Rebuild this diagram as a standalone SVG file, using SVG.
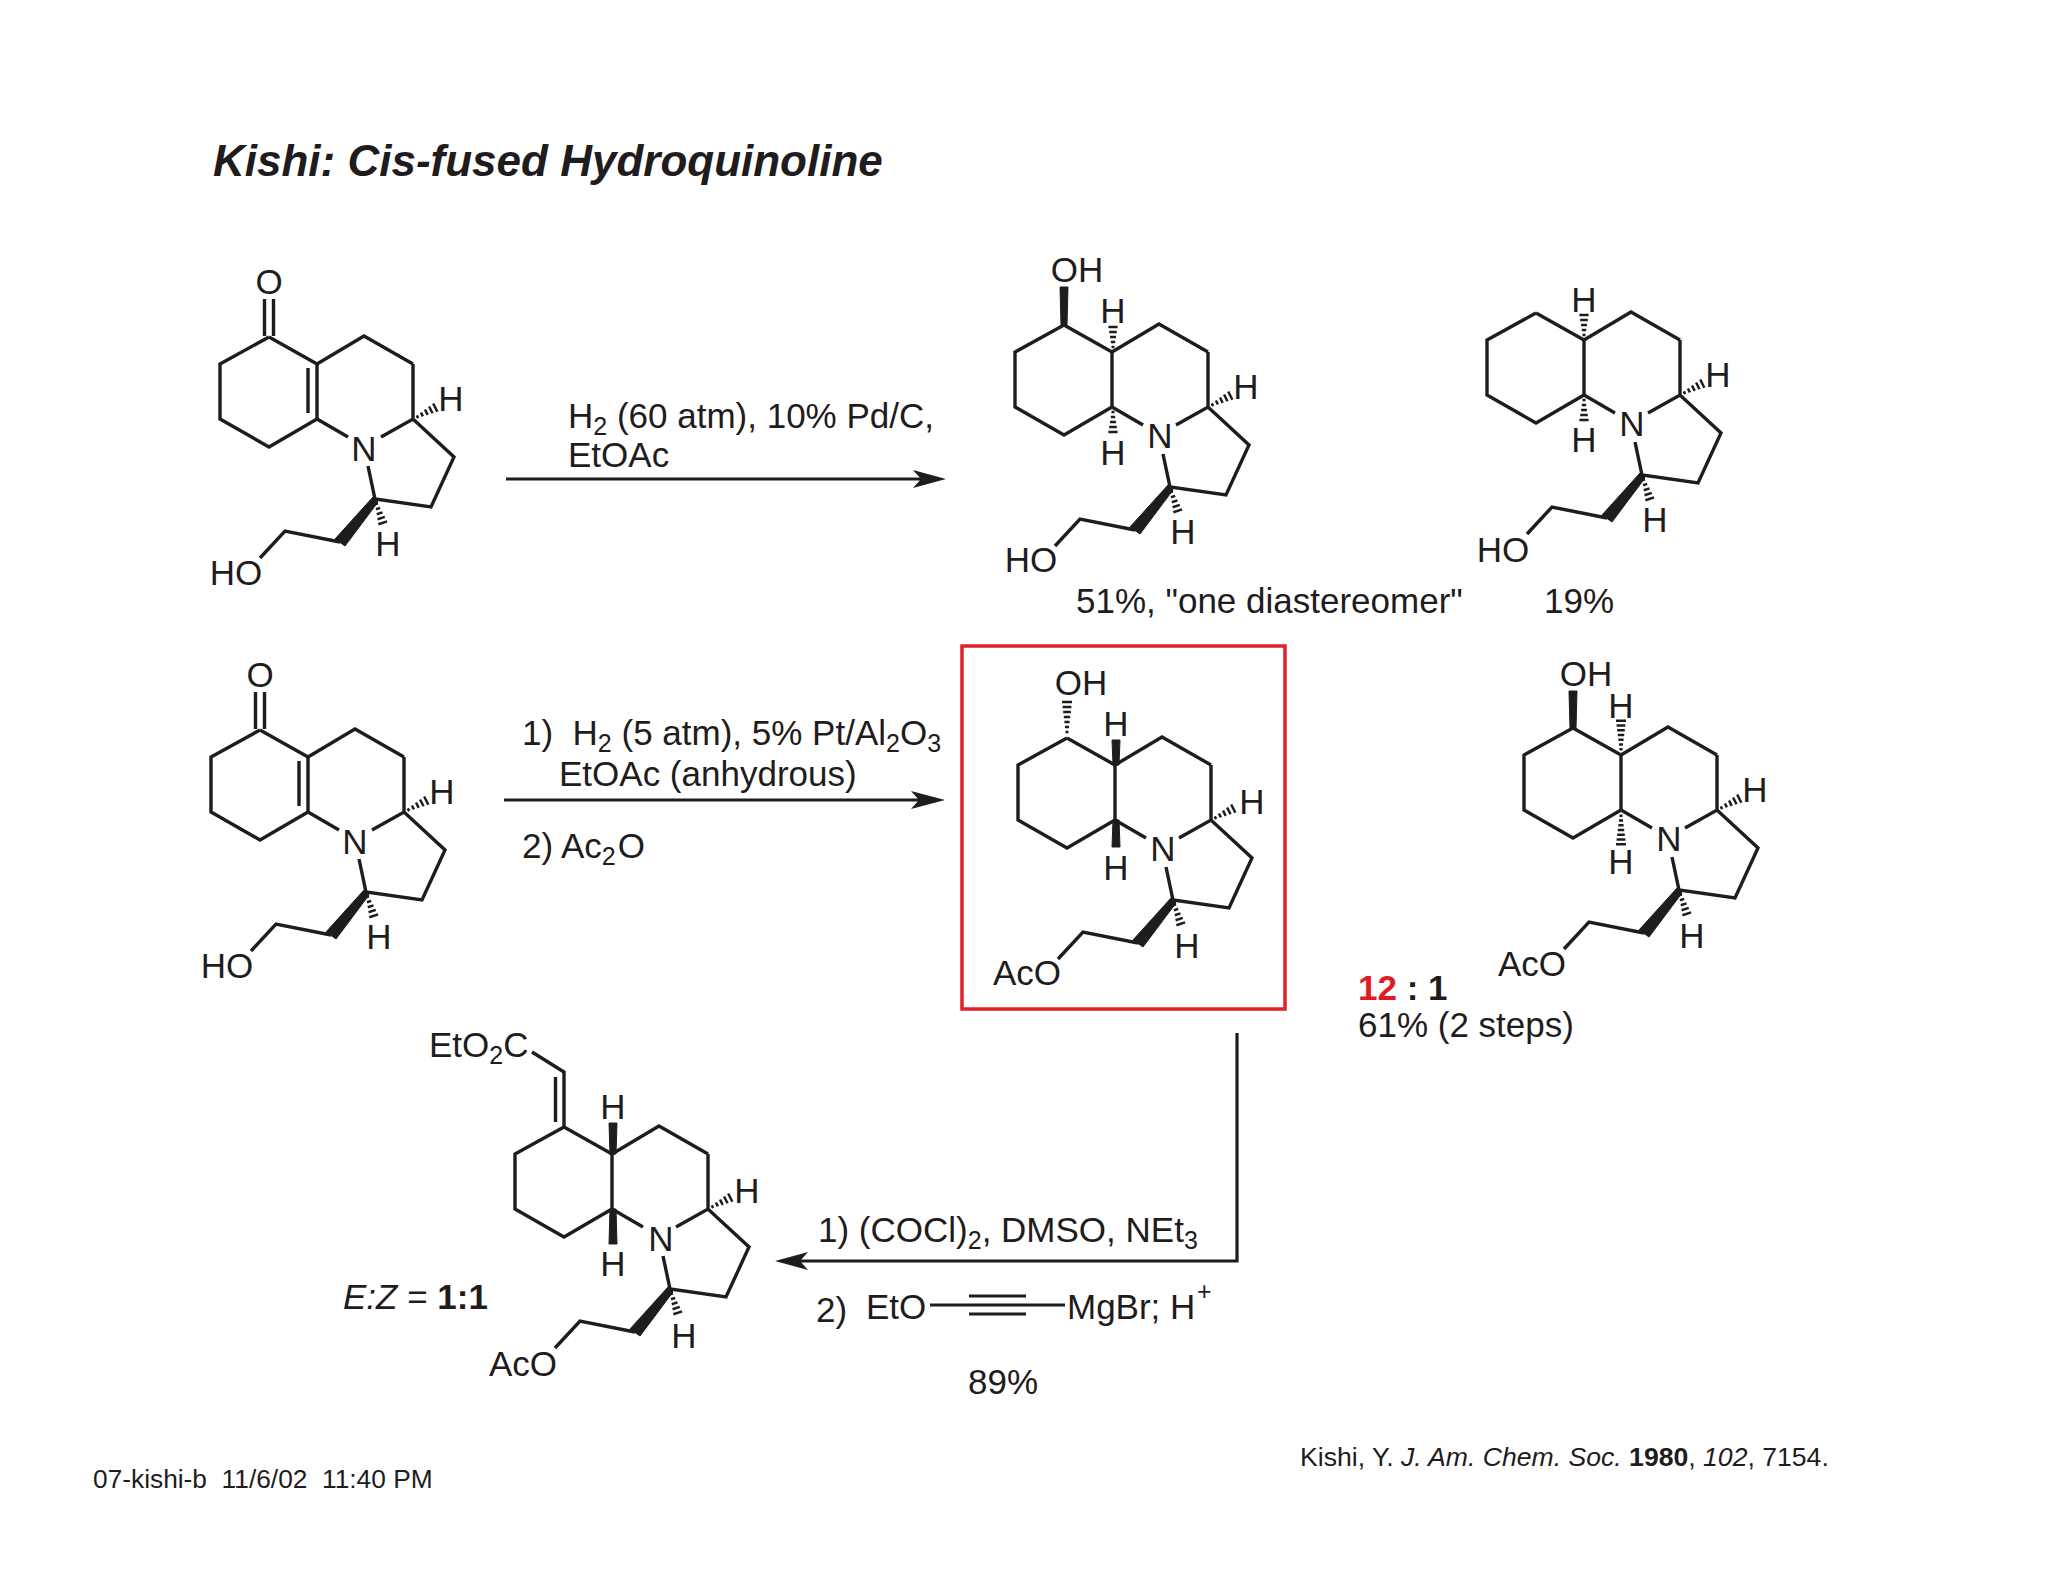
<svg xmlns="http://www.w3.org/2000/svg" xmlns:xlink="http://www.w3.org/1999/xlink" width="2048" height="1582" viewBox="0 0 2048 1582">
<style>
text{font-family:"Liberation Sans",Arial,sans-serif;fill:#1f1c1d}
.a{font-size:35px;text-anchor:middle}
.l{font-size:35px}
.s{font-size:25px}
.b{stroke:#1f1c1d;stroke-width:3.4;fill:none;stroke-linejoin:miter;stroke-linecap:butt}
.h{stroke:#1f1c1d;stroke-width:2.5;fill:none}
.w{fill:#1f1c1d;stroke:#1f1c1d;stroke-width:1}
.c{stroke:#1f1c1d;stroke-width:3.2;fill:none}
.ah{fill:#1f1c1d}
</style>
<defs>
<g id="hash" class="h">
<path d="M5,-1.5V1.5M10,-2.2V2.2M15,-3V3M20,-3.8V3.8M25,-4.6V4.6"/>
</g>
<g id="hashL" class="h">
<path d="M6,-1.5V1.5M11,-2V2M16,-2.6V2.6M21,-3.2V3.2M26,-3.8V3.800M31,-4.4V4.4M36,-5V5"/>
</g>
<g id="tail">
<path class="b" d="M144,27V82M79,100L48,82M112,100L144,82L185,120L162,170L106,162L99,129M71,205L16,194L-9,221"/>
<polygon class="w" points="104,160 109,165 76,209 66,202"/>
<use href="#hash" transform="translate(144 82) rotate(-27)"/>
<use href="#hash" transform="translate(106 162) rotate(72)"/>
</g>
<path id="leftring" class="b" d="M0,0L-49,27V82L0,110L48,82M48,27L0,0M48,27L95,-1L144,27"/>
</defs>
<g id="title"><text x="213" y="176" font-size="44" font-weight="bold" font-style="italic">Kishi: Cis-fused Hydroquinoline</text></g>

<g id="connectors">
<path class="c" d="M506,479H925"/><path class="ah" d="M946,479L913,470L921,479L913,488Z"/>
<path class="c" d="M504,800H925"/><path class="ah" d="M945,800L911,791L919,800L911,809Z"/>
<path class="c" d="M1237,1033V1262.600M1238.600,1261H795"/><path class="ah" d="M775,1261L808,1252L800,1261L808,1270Z"/>
</g>

<g id="mol-1" transform="translate(269 337)">
<use href="#leftring"/><use href="#tail"/>
<path class="b" d="M48,27V82M39,31V76M-4.500,-1V-38M4.500,-1V-38"/>
<text class="a" x="0" y="-43">O</text>
<text class="a" x="95" y="124">N</text>
<text class="a" x="182" y="74">H</text>
<text class="a" x="119" y="219">H</text>
<text class="a" x="-33" y="248">HO</text>
</g>

<g id="mol-2" transform="translate(1064 325)">
<use href="#leftring"/><use href="#tail"/>
<path class="b" d="M48,27V82"/>
<polygon class="w" points="-3,0 3,0 4,-38 -4,-38"/>
<use href="#hash" transform="translate(49 27) rotate(-90)"/>
<use href="#hash" transform="translate(49 82) rotate(90)"/>
<text class="a" x="13" y="-43">OH</text>
<text class="a" x="49" y="-2">H</text>
<text class="a" x="49" y="140">H</text>
<text class="a" x="96" y="123">N</text>
<text class="a" x="182" y="74">H</text>
<text class="a" x="119" y="219">H</text>
<text class="a" x="-33" y="247">HO</text>
</g>

<g id="mol-3" transform="translate(1536 313)">
<use href="#leftring"/><use href="#tail"/>
<path class="b" d="M48,27V82"/>
<use href="#hash" transform="translate(48 27) rotate(-90)"/>
<use href="#hash" transform="translate(48 82) rotate(90)"/>
<text class="a" x="48" y="-1">H</text>
<text class="a" x="48" y="139">H</text>
<text class="a" x="96" y="123">N</text>
<text class="a" x="182" y="74">H</text>
<text class="a" x="119" y="219">H</text>
<text class="a" x="-33" y="249">HO</text>
</g>

<g id="mol-4" transform="translate(260 730)">
<use href="#leftring"/><use href="#tail"/>
<path class="b" d="M48,27V82M39,31V76M-4.500,-1V-38M4.500,-1V-38"/>
<text class="a" x="0" y="-43">O</text>
<text class="a" x="95" y="124">N</text>
<text class="a" x="182" y="74">H</text>
<text class="a" x="119" y="219">H</text>
<text class="a" x="-33" y="248">HO</text>
</g>

<g id="mol-5" transform="translate(1067 738)">
<use href="#leftring"/><use href="#tail"/>
<path class="b" d="M48,27V82"/>
<use href="#hashL" transform="translate(0 0) rotate(-90)"/>
<polygon class="w" points="46,27 52,27 53,2 45,2"/>
<polygon class="w" points="46,82 52,82 53,109 45,109"/>
<text class="a" x="14" y="-43">OH</text>
<text class="a" x="49" y="-2">H</text>
<text class="a" x="49" y="142">H</text>
<text class="a" x="96" y="123">N</text>
<text class="a" x="185" y="76">H</text>
<text class="a" x="120" y="220">H</text>
<text class="a" x="-40" y="247">AcO</text>
</g>

<g id="mol-6" transform="translate(1573 728)">
<use href="#leftring"/><use href="#tail"/>
<path class="b" d="M48,27V82"/>
<polygon class="w" points="-3,0 3,0 4,-37 -4,-37"/>
<use href="#hashL" transform="translate(48 27) rotate(-90) scale(0.95 1)"/>
<use href="#hashL" transform="translate(48 82) rotate(90) scale(0.95 1)"/>
<text class="a" x="13" y="-42">OH</text>
<text class="a" x="48" y="-10">H</text>
<text class="a" x="48" y="146">H</text>
<text class="a" x="96" y="123">N</text>
<text class="a" x="182" y="74">H</text>
<text class="a" x="119" y="220">H</text>
<text class="a" x="-41" y="248">AcO</text>
</g>

<g id="mol-7" transform="translate(564 1127)">
<use href="#leftring"/><use href="#tail"/>
<path class="b" d="M48,27V82M0,0V-55L-32,-75M-8.500,-5V-50"/>
<polygon class="w" points="46,27 52,27 53,-4 45,-4"/>
<polygon class="w" points="46,82 52,82 53,117 45,117"/>
<text class="a" x="49" y="-8">H</text>
<text class="a" x="49" y="149">H</text>
<text class="a" x="97" y="124">N</text>
<text class="a" x="183" y="76">H</text>
<text class="a" x="120" y="221">H</text>
<text class="a" x="-41" y="249">AcO</text>
</g>
<g id="label-eto2c"><text class="l" x="429" y="1057">EtO<tspan class="s" dy="7">2</tspan><tspan dy="-7">C</tspan></text></g>

<g id="box"><rect x="962" y="646" width="323" height="363" fill="none" stroke="#e0202c" stroke-width="3.500"/></g>

<g id="labels">
<text class="l" x="568" y="428">H<tspan class="s" dy="7">2</tspan><tspan dy="-7"> (60 atm), 10% Pd/C,</tspan></text>
<text class="l" x="568" y="467">EtOAc</text>
<text class="l" x="522" y="745" xml:space="preserve">1)  H<tspan class="s" dy="7">2</tspan><tspan dy="-7"> (5 atm), 5% Pt/Al</tspan><tspan class="s" dy="7">2</tspan><tspan dy="-7">O</tspan><tspan class="s" dy="7">3</tspan></text>
<text class="l" x="559" y="786">EtOAc (anhydrous)</text>
<text class="l" x="522" y="858">2) Ac<tspan class="s" dy="7">2</tspan><tspan dx="2" dy="-7">O</tspan></text>
<text class="l" x="1076" y="613">51%, "one diastereomer"</text>
<text class="l" x="1544" y="613">19%</text>
<text class="l" x="1358" y="1000" font-weight="bold"><tspan fill="#e01b24">12</tspan> : 1</text>
<text class="l" x="1358" y="1037">61% (2 steps)</text>
<text class="l" x="343" y="1309"><tspan font-style="italic">E:Z</tspan> = <tspan font-weight="bold">1:1</tspan></text>
<text class="l" x="818" y="1242">1) (COCl)<tspan class="s" dy="7">2</tspan><tspan dy="-7">, DMSO, NEt</tspan><tspan class="s" dy="7">3</tspan></text>
<text class="l" x="816" y="1322">2)</text>
<text class="l" x="866" y="1319">EtO</text>
<text class="l" x="1067" y="1319">MgBr; H</text>
<text class="s" x="1197" y="1300">+</text>
<text class="l" x="968" y="1394">89%</text>
<text x="1300" y="1466" font-size="26.6">Kishi, Y. <tspan font-style="italic">J. Am. Chem. Soc.</tspan> <tspan font-weight="bold">1980</tspan>, <tspan font-style="italic">102</tspan>, 7154.</text>
<text x="93" y="1488" font-size="26.300" xml:space="preserve">07-kishi-b  11/6/02  11:40 PM</text>
</g>
<g id="alkyne"><path class="c" d="M930,1305H1065M969,1296H1026M969,1305H1026M969,1314H1026"/></g>
</svg>
